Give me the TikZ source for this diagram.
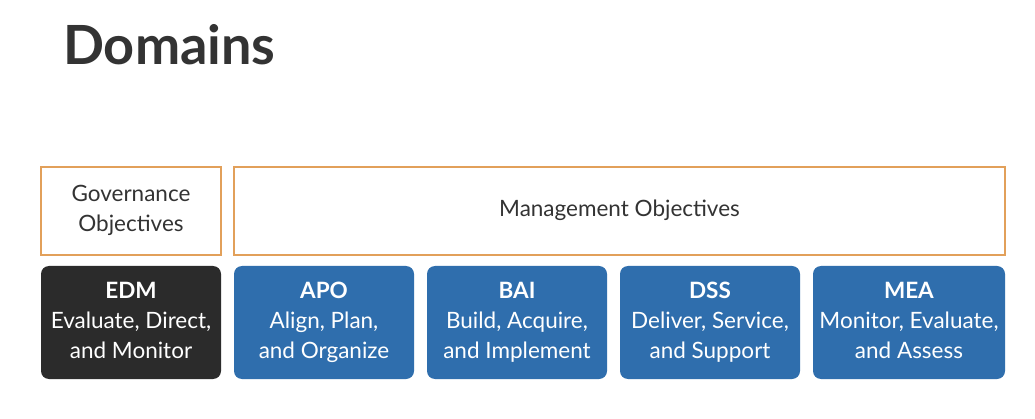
\documentclass[tikz,border=0pt]{standalone}
\usepackage{fontspec}
\setmainfont{Lato}
\definecolor{cobitblue}{HTML}{2F6EAD}
\definecolor{cobitdark}{HTML}{2B2B2B}
\definecolor{cobitorange}{HTML}{E2A05A}
\definecolor{cobittext}{HTML}{333333}
\tikzset{
  objbox/.style={draw=cobitorange, line width=2pt, fill=white, text=cobittext, align=center, minimum height=88pt, inner sep=0pt, font=\fontsize{22.5}{30}\selectfont, execute at end node=\strut},
  domainbox/.style={rounded corners=8pt, text=white, align=center, minimum width=180pt, minimum height=113pt, inner sep=0pt, font=\fontsize{22.5}{30}\selectfont, execute at end node=\strut},
}
\begin{document}
\begin{tikzpicture}[x=1pt,y=1pt,yscale=-1]
\useasboundingbox[fill=white] (0,0) rectangle (1035,419);

% Title
\node (title) [anchor=base west, inner sep=0pt, text=cobittext, font=\fontsize{54}{60}\selectfont\bfseries] at (63,65) {Domains};

% Objective headers
\node (gov) [objbox, minimum width=180pt] at (131,211) {\strut Governance\\Objectives};
\node (mgmt) [objbox, minimum width=771pt] at (619.5,211) {\strut Management Objectives};

% Domains
\node (edm) [domainbox, fill=cobitdark] at (131,322.5) {\strut\textbf{EDM}\\Evaluate, Direct,\\and Monitor};
\node (apo) [domainbox, fill=cobitblue] at (324,322.5) {\strut\textbf{APO}\\Align, Plan,\\and Organize};
\node (bai) [domainbox, fill=cobitblue] at (517,322.5) {\strut\textbf{BAI}\\Build, Acquire,\\and Implement};
\node (dss) [domainbox, fill=cobitblue] at (710,322.5) {\strut\textbf{DSS}\\Deliver, Service,\\and Support};
\node (mea) [domainbox, fill=cobitblue, minimum width=192pt] at (909,322.5) {\strut\textbf{MEA}\\Monitor, Evaluate,\\and Assess};

\end{tikzpicture}
\end{document}
